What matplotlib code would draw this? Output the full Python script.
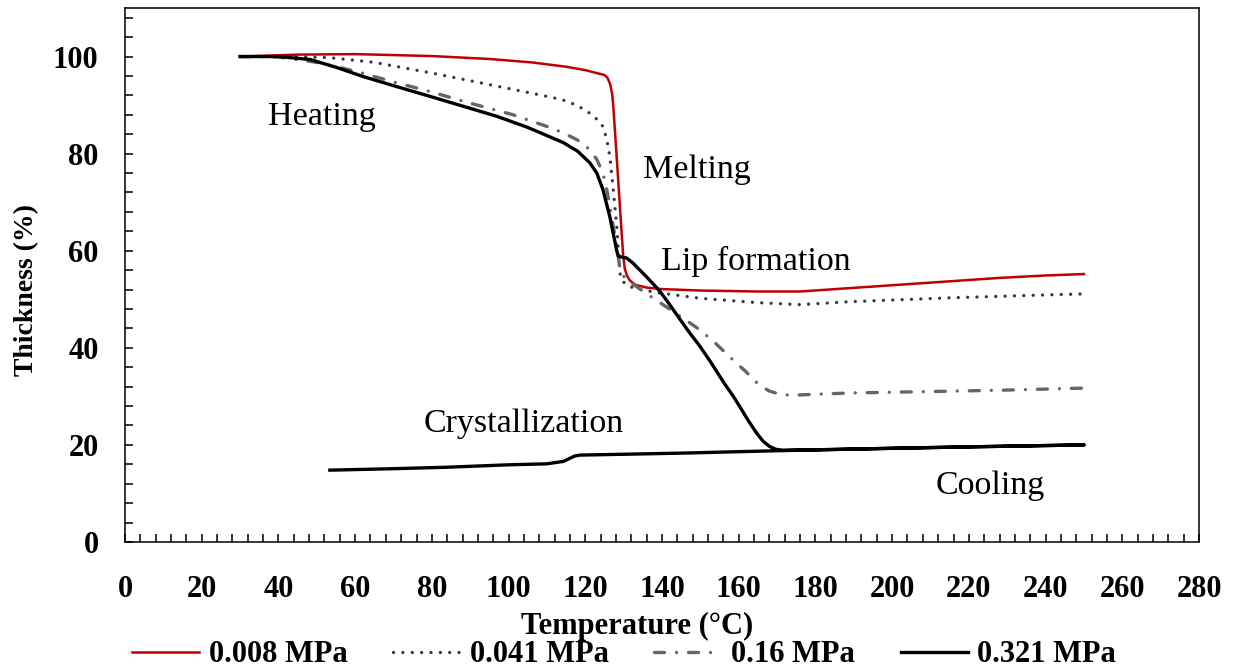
import numpy as np
import matplotlib.pyplot as plt
from matplotlib.ticker import MultipleLocator

plt.rcParams['font.family'] = ['Liberation Serif', 'DejaVu Serif']

# thickness (%) vs temperature (C) for the four applied pressures
t_008 = [30, 45, 60, 80, 95, 106, 115, 120, 123, 125.0, 125.8, 126.5, 127.0, 127.3, 128.0,
         128.6, 129.2, 129.9, 130.3, 130.9, 131.6, 133, 136, 140, 150, 165, 176, 189, 202,
         215, 228, 240, 250]
y_008 = [100, 100.4, 100.5, 100.1, 99.5, 98.8, 97.9, 97.2, 96.6, 96.2, 95.6, 94.3, 92.3, 89.8, 81.5,
         74.3, 67.0, 58.8, 56.3, 54.8, 53.9, 53.0, 52.4, 52.1, 51.8, 51.6, 51.6, 52.3, 53.0,
         53.7, 54.4, 54.9, 55.2]

t_041 = [30, 40, 53, 65, 80, 97, 110, 114, 117, 119, 121, 123, 124.6, 125.6, 126.4, 127.3,
         128.2, 129.0, 129.5, 130.5, 131.6, 135, 139.5, 150, 165, 176, 189, 202, 215, 228, 240, 250]
y_041 = [100, 100, 99.8, 98.8, 96.6, 93.9, 91.8, 91.1, 90.2, 89.4, 88.4, 87.1, 85.6, 83.0, 79.4, 72.6,
         65.0, 55.5, 54.0, 53.1, 52.6, 51.9, 51.3, 50.2, 49.3, 48.9, 49.5, 49.9, 50.3, 50.6, 50.9, 51.1]

t_016 = [30, 40, 50, 60, 70.8, 80, 88.1, 101.2, 110, 114.2, 118, 121.2, 123, 124.6, 125.6, 126.4,
         127.3, 128.2, 129.2, 131, 133.4, 136, 139.5, 144, 149.9, 154, 158.5, 162, 164, 166, 168,
         170, 172.5, 176, 189, 210.7, 230, 250]
y_016 = [100, 99.9, 98.8, 97.0, 94.6, 92.7, 90.8, 88.0, 85.6, 84.3, 82.8, 80.8, 78.8, 76.0, 72.6, 69.1,
         65.0, 60.9, 55.5, 53.8, 52.6, 51.1, 49.3, 46.9, 43.7, 40.9, 37.5, 35.0, 33.3, 32.0, 31.1,
         30.6, 30.3, 30.3, 30.7, 31.0, 31.3, 31.7]

# 0.321 MPa: heating up to 250 then cooling back down
t_321 = [30, 40, 48.2, 55, 62, 70, 79.5, 88, 96.9, 105, 114.2, 118, 121.2, 123, 124.6, 125.5,
         126.4, 127.3, 128.2, 128.6, 129.5, 130.8, 132.5, 134, 136, 138, 139.5, 142, 144.5, 147,
         149.9, 152.5, 155, 157, 158.6, 160.5, 162.5, 164.7, 166.3, 168, 169.7, 171.5, 180, 200,
         220, 250,
         220, 200, 170, 144.7, 118.6, 117.2, 116.4, 114.3, 109.9, 100, 83.9, 70, 53.4]
y_321 = [100, 100, 99.4, 97.8, 95.9, 94.0, 91.8, 89.8, 87.7, 85.4, 82.3, 80.5, 78.1, 76.0, 72.6, 69.8,
         67.0, 63.5, 60.0, 58.9, 58.7, 58.5, 57.4, 56.2, 54.6, 52.9, 51.6, 48.9, 46.1, 43.3,
         40.3, 37.3, 34.2, 31.8, 30.0, 27.6, 25.0, 22.4, 20.8, 19.7, 19.1, 18.9, 19.0, 19.3,
         19.6, 20.0,
         19.6, 19.3, 18.8, 18.3, 17.9, 17.7, 17.4, 16.6, 16.1, 15.9, 15.4, 15.1, 14.8]

labels = ['0.008 MPa', '0.041 MPa', '0.16 MPa', '0.321 MPa']

fig = plt.figure(figsize=(12.34, 6.71), dpi=100)
ax = fig.add_axes([125/1234, 1 - 542/671, 1074/1234, 534/671])

ax.plot(t_008, y_008, color='#c00000', lw=1.8, label=labels[0])
ax.plot(t_041, y_041, color='#333a47', lw=2.4, ls=(0, (0.01, 2.8)),
        dash_capstyle='round', label=labels[1])
ax.plot(t_016, y_016, color='#666666', lw=2.4, ls=(0, (3, 3.6, 0.01, 3.6)),
        dash_capstyle='round', label=labels[2])
ax.plot(t_321, y_321, color='black', lw=2.4, label=labels[3])

ax.set_xlim(0, 280)
ax.set_ylim(0, 110)
ax.xaxis.set_major_locator(MultipleLocator(20))
ax.xaxis.set_minor_locator(MultipleLocator(4))
ax.yaxis.set_major_locator(MultipleLocator(20))
ax.yaxis.set_minor_locator(MultipleLocator(4))
ax.tick_params(which='both', direction='in', length=6, width=1.1, top=False, right=False)
ax.tick_params(axis='y', pad=19, labelsize=22)
ax.tick_params(axis='x', pad=24, labelsize=22)
for lab in ax.get_xticklabels() + ax.get_yticklabels():
    lab.set_fontweight('bold')
for s in ax.spines.values():
    s.set_linewidth(1.1)

ax.set_xlabel('Temperature (°C)', fontsize=22, fontweight='bold', va='center')
ax.xaxis.set_label_coords((637 - 125) / 1074, (542 - 626) / 534)
ax.set_ylabel('Thickness (%)', fontsize=20, fontweight='bold', va='center')
ax.yaxis.set_label_coords((27 - 125) / 1074, (542 - 290) / 534)

# process stage annotations
ax.text(37.3, 87.6, 'Heating', fontsize=24.5, va='center')
ax.text(135.0, 76.7, 'Melting', fontsize=24.5, va='center')
ax.text(139.7, 57.7, 'Lip formation', fontsize=24.5, va='center')
ax.text(77.9, 24.3, 'Crystallization', fontsize=24.5, va='center')
ax.text(211.4, 11.5, 'Cooling', fontsize=24.5, va='center')

fig.legend(loc='center', bbox_to_anchor=(624/1234, 1 - 655/671), ncol=4, frameon=False,
           prop={'size': 22, 'weight': 'bold'}, handlelength=2.2, handletextpad=0.3,
           columnspacing=1.5, borderpad=0)

plt.savefig('out.png', dpi=100)
